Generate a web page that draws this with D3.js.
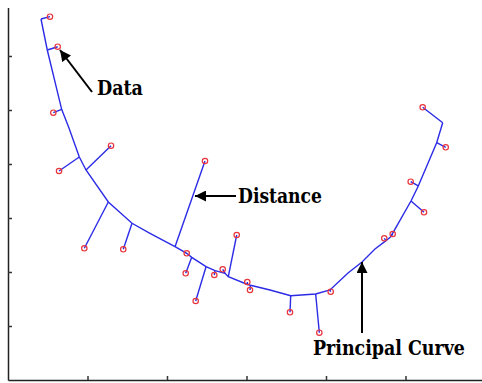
<!DOCTYPE html>
<html>
<head>
<meta charset="utf-8">
<script src="https://cdn.jsdelivr.net/npm/d3@7"></script>
<style>
  body { margin: 0; background: #fff; }
  svg { display: block; }
</style>
</head>
<body>
<div id="chart_container"></div>
<script>
// principal curve vertices (x, y)
let curveX = [0.415, 0.494, 0.675, 0.767, 0.897, 0.981, 1.262, 1.560, 1.786, 2.101, 2.248, 2.311, 2.491,
  2.604, 2.730, 2.771, 3.013, 3.050, 3.296, 3.556, 3.870, 4.050, 4.277, 4.453, 4.616, 4.755, 4.814, 5.069,
  5.161, 5.392, 5.468];
let curveY = [6.685, 6.111, 5.013, 4.667, 4.130, 3.889, 3.296, 2.902, 2.717, 2.469, 2.346, 2.272, 2.098,
  2.024, 1.976, 1.913, 1.769, 1.754, 1.667, 1.561, 1.593, 1.667, 1.981, 2.185, 2.426, 2.580, 2.654, 3.315,
  3.593, 4.394, 4.765];

// data points
let pointX = [0.528, 0.625, 0.570, 0.642, 1.296, 0.960, 1.450, 2.478, 2.248, 2.235, 2.361, 2.595, 2.701,
  2.877, 3.010, 3.044, 3.547, 3.916, 4.059, 5.216, 5.506, 5.065, 5.233, 4.839, 4.733];
let pointY = [6.728, 6.172, 4.950, 3.870, 4.339, 2.439, 2.420, 4.056, 2.346, 1.976, 1.463, 1.944, 2.050,
  2.685, 1.815, 1.667, 1.254, 0.876, 1.635, 5.050, 4.309, 3.672, 3.106, 2.704, 2.624];

// projection of each point onto the curve
let projX = [0.415, 0.494, 0.675, 0.897, 0.981, 1.262, 1.560, 2.101, 2.248, 2.311, 2.491, 2.604, 2.730,
  2.771, 3.013, 3.050, 3.556, 3.870, 4.050, 5.468, 5.392, 5.161, 5.069, 4.814, 4.755];
let projY = [6.685, 6.111, 5.013, 4.130, 3.889, 3.296, 2.902, 2.469, 2.346, 2.272, 2.098, 2.024, 1.976,
  1.913, 1.769, 1.754, 1.561, 1.593, 1.667, 4.765, 4.394, 3.593, 3.315, 2.654, 2.580];

let xTicks = [1, 2, 3, 4, 5];
let yTicks = [1, 2, 3, 4, 5, 6];

let svgWidth = 482;
let svgHeight = 383;

let blue = "#2b2be6";
let red = "#e8343a";
let serif = "'DejaVu Serif Condensed', 'DejaVu Serif', serif";

let svg = d3.select("#chart_container")
  .append("svg")
  .attr("width", svgWidth)
  .attr("height", svgHeight);

let xScale = d3.scaleLinear()
  .domain([0, 6])
  .range([8, 485]);

let yScale = d3.scaleLinear()
  .domain([0, 6.9])
  .range([380, 7.4]);

// axes, ticks pointing inward, no labels
let xAxis = d3.axisBottom(xScale)
  .tickValues(xTicks)
  .tickSizeInner(-4)
  .tickSizeOuter(0)
  .tickFormat("");

let yAxis = d3.axisLeft(yScale)
  .tickValues(yTicks)
  .tickSizeInner(-4)
  .tickSizeOuter(0)
  .tickFormat("");

svg.append("g")
  .attr("transform", "translate(0," + yScale(0) + ")")
  .call(xAxis);

svg.append("g")
  .attr("transform", "translate(" + xScale(0) + ",0)")
  .call(yAxis);

svg.selectAll(".domain").attr("stroke", "#222").attr("stroke-width", 1.5);
svg.selectAll(".tick line").attr("stroke", "#333").attr("stroke-width", 1.5);

// distance segments
svg.selectAll(".dist")
  .data(pointX)
  .enter()
  .append("line")
  .attr("class", "dist")
  .attr("x1", (d, i) => xScale(pointX[i]))
  .attr("y1", (d, i) => yScale(pointY[i]))
  .attr("x2", (d, i) => xScale(projX[i]))
  .attr("y2", (d, i) => yScale(projY[i]))
  .attr("stroke", blue)
  .attr("stroke-width", 1.4);

// curve
let line = d3.line()
  .x(d => xScale(d[0]))
  .y(d => yScale(d[1]));

svg.append("path")
  .datum(curveX.map((v, i) => [v, curveY[i]]))
  .attr("d", line)
  .attr("fill", "none")
  .attr("stroke", blue)
  .attr("stroke-width", 1.4);

// points
svg.selectAll(".point")
  .data(pointX)
  .enter()
  .append("circle")
  .attr("class", "point")
  .attr("cx", (d, i) => xScale(pointX[i]))
  .attr("cy", (d, i) => yScale(pointY[i]))
  .attr("r", 2.7)
  .attr("fill", "none")
  .attr("stroke", red)
  .attr("stroke-width", 1.2);

// annotations
svg.append("defs").append("marker")
  .attr("id", "head")
  .attr("viewBox", "0 0 10 10")
  .attr("refX", 10)
  .attr("refY", 5)
  .attr("markerWidth", 6.5)
  .attr("markerHeight", 5.5)
  .attr("markerUnits", "strokeWidth")
  .attr("orient", "auto")
  .append("path")
  .attr("d", "M0,0 L10,5 L0,10 z")
  .attr("fill", "#000");

let notes = [
  {text: "Data", len: 46, tx: 1.119, ty: 5.278, from: [1.057, 5.333], to: [0.654, 6.111]},
  {text: "Distance", len: 84, tx: 2.893, ty: 3.278, from: [2.868, 3.407], to: [2.352, 3.407]},
  {text: "Principal Curve", len: 152, tx: 3.836, ty: 0.463, from: [4.453, 0.87], to: [4.453, 2.185]}
];

notes.forEach(n => {
  svg.append("line")
    .attr("x1", xScale(n.from[0]))
    .attr("y1", yScale(n.from[1]))
    .attr("x2", xScale(n.to[0]))
    .attr("y2", yScale(n.to[1]))
    .attr("stroke", "#000")
    .attr("stroke-width", 2)
    .attr("marker-end", "url(#head)");

  svg.append("text")
    .attr("x", xScale(n.tx))
    .attr("y", yScale(n.ty))
    .attr("font-family", serif)
    .attr("font-weight", "bold")
    .attr("font-size", 21)
    .attr("textLength", n.len)
    .attr("lengthAdjust", "spacingAndGlyphs")
    .attr("fill", "#000")
    .text(n.text);
});
</script>
</body>
</html>
